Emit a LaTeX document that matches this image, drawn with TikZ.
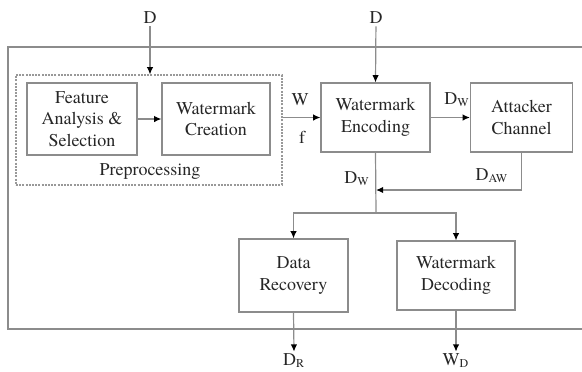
\documentclass[tikz,border=0pt]{standalone}
\usepackage{fontspec}
\setmainfont{texgyretermes}[Extension=.otf, UprightFont=*-regular, BoldFont=*-bold, ItalicFont=*-italic, BoldItalicFont=*-bolditalic]
\usetikzlibrary{arrows.meta}
\tikzset{
	blk/.style={draw=black!45, line width=0.6pt, align=center, text=black!85, inner sep=0pt},
	prepbox/.style={draw=black!40, line width=0.6pt, dash pattern=on 1pt off 0.6pt},
	lbl/.style={text=black!85, inner sep=1pt},
	flow/.style={draw=black!45, line width=0.6pt, -{Latex[length=3.6pt,width=3.2pt,color=black]}},
	wire/.style={draw=black!45, line width=0.6pt}
}

\begin{document}
\begin{tikzpicture}[x=0.5pt, y=-0.5pt, font=\fontsize{9}{10.9}\selectfont]
			%%%%% START %%%%%
			
			\useasboundingbox (0,0) rectangle (582,371);
			
			% outer frame (open to the right)
			\draw[black!45, line width=0.9pt] (582,47) -- (8,47) -- (8,329) -- (582,329);
			
			% preprocessing
			\node[prepbox, minimum width=133pt, minimum height=55pt] (prep) at (149,130) {};
			\node[blk, minimum width=55pt, minimum height=36pt] (feat) at (82,119) {Feature\\Analysis \&\\Selection};
			\node[blk, minimum width=54pt, minimum height=36pt] (create) at (216,119) {Watermark\\Creation};
			\node[lbl] (preplbl) at (150,171) {Preprocessing};
			
			% encoding and attack
			\node[blk, minimum width=54.5pt, minimum height=34.5pt] (enc) at (375.5,117.5) {Watermark\\Encoding};
			\node[blk, minimum width=51pt, minimum height=34.5pt] (att) at (521.5,117.5) {Attacker\\Channel};
			
			% recovery and decoding
			\node[blk, minimum width=54.5pt, minimum height=36.5pt] (rec) at (293.5,275.5) {Data\\Recovery};
			\node[blk, minimum width=59pt, minimum height=34.5pt] (dec) at (456,275.5) {Watermark\\Decoding};
			
			% inputs and outputs
			\node[lbl] (din1) at (150,18) {D};
			\node[lbl] (din2) at (376,18) {D};
			\node[lbl] (dout) at (294,361) {D\textsubscript{R}};
			\node[lbl] (wout) at (456,361) {W\textsubscript{D}};
			
			% signal labels
			\node[lbl] (wlbl) at (300,100) {W};
			\node[lbl] (flbl) at (302,137) {f};
			\node[lbl] (dwlbl) at (457,100) {D\textsubscript{W}};
			\node[lbl] (dwlbl2) at (357,179) {D\textsubscript{W}};
			\node[lbl] (dawlbl) at (492,176) {D\textsubscript{AW}};
			
			\coordinate (join) at (376,190);
			\coordinate (split) at (376,213);
			
			% connectors
			\draw[flow] (din1) -- (din1 |- prep.north);
			\draw[flow] (din2) -- (enc.north);
			\draw[flow] (feat) -- (create);
			\draw[flow] (prep.east |- enc.west) -- (enc.west);
			\draw[flow] (enc) -- (att);
			\draw[flow] (att.south) |- (join);
			\draw[wire] (enc.south) -- (split);
			\draw[flow] (split) -| (rec.north);
			\draw[flow] (split) -| (dec.north);
			\draw[flow] (rec.south) -- (dout.north);
			\draw[flow] (dec.south) -- (wout.north);
			
			%%%%% END %%%%%
\end{tikzpicture}
\end{document}
